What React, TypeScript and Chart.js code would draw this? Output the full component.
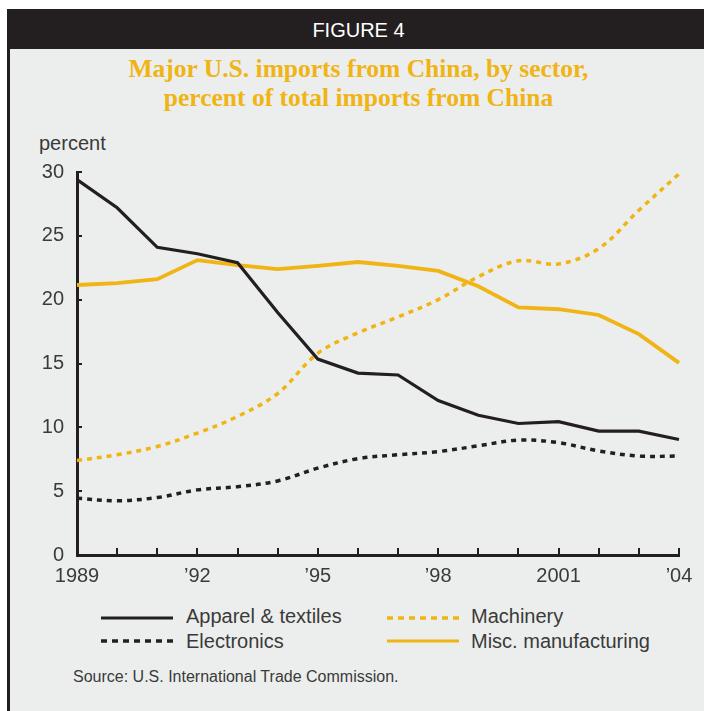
import React, { useEffect, useRef } from 'react';
import { Chart, registerables } from 'chart.js';

Chart.register(...registerables);

// ---- data ----
const years = ['1989', '1990', '1991', '1992', '1993', '1994', '1995', '1996', '1997', '1998', '1999', '2000', '2001', '2002', '2003', '2004'];
const yearTickLabels = ['1989', '', '', '\u201992', '', '', '\u201995', '', '', '\u201998', '', '', '2001', '', '', '\u201904'];
const apparel = [29.4, 27.2, 24.1, 23.6, 22.9, 19.0, 15.35, 14.25, 14.1, 12.1, 10.95, 10.3, 10.45, 9.7, 9.7, 9.05];
const electronics = [4.45, 4.25, 4.5, 5.1, 5.35, 5.8, 6.8, 7.55, 7.85, 8.1, 8.55, 9.0, 8.8, 8.15, 7.75, 7.75];
const machinery = [7.4, 7.85, 8.5, 9.55, 10.85, 12.65, 15.8, 17.4, 18.65, 20.0, 21.8, 23.05, 22.8, 24.0, 27.0, 29.85];
const misc = [21.15, 21.3, 21.6, 23.1, 22.7, 22.4, 22.65, 22.95, 22.65, 22.25, 21.05, 19.4, 19.25, 18.8, 17.3, 15.05];
const yMin = 0;
const yMax = 30;
const yStep = 5;

const seriesNames = ['Apparel & textiles', 'Electronics', 'Machinery', 'Misc. manufacturing'];

// ---- style ----
const INK = '#231F20';
const GOLD = '#F0B414';
const TEXT = '#3a3a3a';
const BG = '#ECEEED';
const SANS = '"Liberation Sans", Arial, sans-serif';

const inwardTicks = {
  id: 'inwardTicks',
  afterDraw(chart: any) {
    const { ctx, chartArea } = chart;
    const xs = chart.scales.x;
    const ys = chart.scales.y;
    ctx.save();
    ctx.strokeStyle = INK;
    ctx.lineWidth = 2;
    xs.ticks.forEach((_: any, i: number) => {
      const px = Math.round(xs.getPixelForTick(i));
      ctx.beginPath();
      ctx.moveTo(px, chartArea.bottom);
      ctx.lineTo(px, chartArea.bottom - 7);
      ctx.stroke();
    });
    ys.ticks.forEach((t: any) => {
      const py = Math.round(ys.getPixelForValue(t.value));
      ctx.beginPath();
      ctx.moveTo(chartArea.left, py);
      ctx.lineTo(chartArea.left + 5, py);
      ctx.stroke();
    });
    ctx.restore();
  },
};

function LegendSample({ color, dashed }: { color: string; dashed: boolean }) {
  return (
    <svg width={72} height={6} style={{ display: 'block' }}>
      <line
        x1={0}
        y1={3}
        x2={72}
        y2={3}
        stroke={color}
        strokeWidth={dashed ? 3.5 : 3}
        strokeDasharray={dashed ? '6 5' : undefined}
      />
    </svg>
  );
}

export default function App() {
  const canvasRef = useRef<HTMLCanvasElement | null>(null);

  useEffect(() => {
    const canvas = canvasRef.current;
    if (!canvas) return;
    const chart = new Chart(canvas, {
      type: 'line',
      data: {
        labels: years,
        datasets: [
          {
            label: seriesNames[0],
            data: apparel,
            borderColor: INK,
            borderWidth: 3.2,
            pointRadius: 0,
            tension: 0,
          },
          {
            label: seriesNames[1],
            data: electronics,
            borderColor: INK,
            borderWidth: 3.5,
            borderDash: [5, 5],
            pointRadius: 0,
            tension: 0.35,
          },
          {
            label: seriesNames[2],
            data: machinery,
            borderColor: GOLD,
            borderWidth: 3.5,
            borderDash: [5, 5],
            pointRadius: 0,
            tension: 0.35,
          },
          {
            label: seriesNames[3],
            data: misc,
            borderColor: GOLD,
            borderWidth: 3.8,
            pointRadius: 0,
            tension: 0,
          },
        ],
      },
      options: {
        animation: false,
        responsive: false,
        maintainAspectRatio: false,
        layout: { padding: { left: 0, right: 25, top: 42, bottom: 0 } },
        plugins: {
          legend: { display: false },
          tooltip: { enabled: false },
          title: { display: false },
        },
        scales: {
          x: {
            type: 'category',
            grid: { display: true, drawOnChartArea: false, drawTicks: false },
            border: { display: true, color: INK, width: 3 },
            ticks: {
              autoSkip: false,
              maxRotation: 0,
              minRotation: 0,
              padding: 9,
              color: TEXT,
              font: { family: SANS, size: 20 },
              callback: (_v: any, i: number) => yearTickLabels[i],
            },
            afterFit: (s: any) => {
              s.height = 35;
            },
          },
          y: {
            min: yMin,
            max: yMax,
            grid: { display: true, drawOnChartArea: false, drawTicks: false },
            border: { display: true, color: INK, width: 3 },
            ticks: {
              stepSize: yStep,
              padding: 13,
              color: TEXT,
              font: { family: SANS, size: 20 },
            },
            afterFit: (s: any) => {
              s.width = 77;
            },
          },
        },
      },
      plugins: [inwardTicks],
    } as any);
    return () => chart.destroy();
  }, []);

  const legendText: React.CSSProperties = {
    position: 'absolute',
    fontFamily: SANS,
    fontSize: 20,
    lineHeight: '24px',
    color: TEXT,
    whiteSpace: 'nowrap',
  };

  return (
    <div style={{ position: 'absolute', left: 0, top: 0, width: 704, height: 711, background: '#fff', overflow: 'hidden' }}>
      <div
        style={{
          position: 'absolute',
          left: 7,
          top: 9,
          width: 697,
          height: 40,
          background: INK,
          color: '#fff',
          fontFamily: SANS,
          fontSize: 20,
          lineHeight: '42px',
          textAlign: 'center',
          paddingLeft: 6,
          boxSizing: 'border-box',
        }}
      >
        FIGURE 4
      </div>
      <div
        style={{
          position: 'absolute',
          left: 7,
          top: 49,
          width: 694,
          height: 662,
          background: BG,
          borderLeft: `3px solid ${INK}`,
        }}
      />
      <div
        style={{
          position: 'absolute',
          left: 7,
          top: 54,
          width: 703,
          textAlign: 'center',
          fontFamily: '"Liberation Serif", "Times New Roman", serif',
          fontWeight: 'bold',
          fontSize: 25.5,
          lineHeight: '29px',
          color: GOLD,
        }}
      >
        Major U.S. imports from China, by sector,
        <br />
        percent of total imports from China
      </div>
      <div style={{ ...legendText, left: 39, top: 131 }}>percent</div>
      <canvas
        ref={canvasRef}
        width={704}
        height={460}
        style={{ position: 'absolute', left: 0, top: 130, width: 704, height: 460, display: 'block' }}
      />
      <div style={{ position: 'absolute', left: 101, top: 615 }}>
        <LegendSample color={INK} dashed={false} />
      </div>
      <div style={{ ...legendText, left: 186, top: 604 }}>{seriesNames[0]}</div>
      <div style={{ position: 'absolute', left: 101, top: 638 }}>
        <LegendSample color={INK} dashed={true} />
      </div>
      <div style={{ ...legendText, left: 186, top: 629 }}>{seriesNames[1]}</div>
      <div style={{ position: 'absolute', left: 387, top: 615 }}>
        <LegendSample color={GOLD} dashed={true} />
      </div>
      <div style={{ ...legendText, left: 471, top: 604 }}>{seriesNames[2]}</div>
      <div style={{ position: 'absolute', left: 387, top: 638 }}>
        <LegendSample color={GOLD} dashed={false} />
      </div>
      <div style={{ ...legendText, left: 471, top: 629 }}>{seriesNames[3]}</div>
      <div
        style={{
          position: 'absolute',
          left: 73,
          top: 667,
          fontFamily: SANS,
          fontSize: 16,
          lineHeight: '20px',
          color: TEXT,
          whiteSpace: 'nowrap',
        }}
      >
        Source: U.S. International Trade Commission.
      </div>
    </div>
  );
}
